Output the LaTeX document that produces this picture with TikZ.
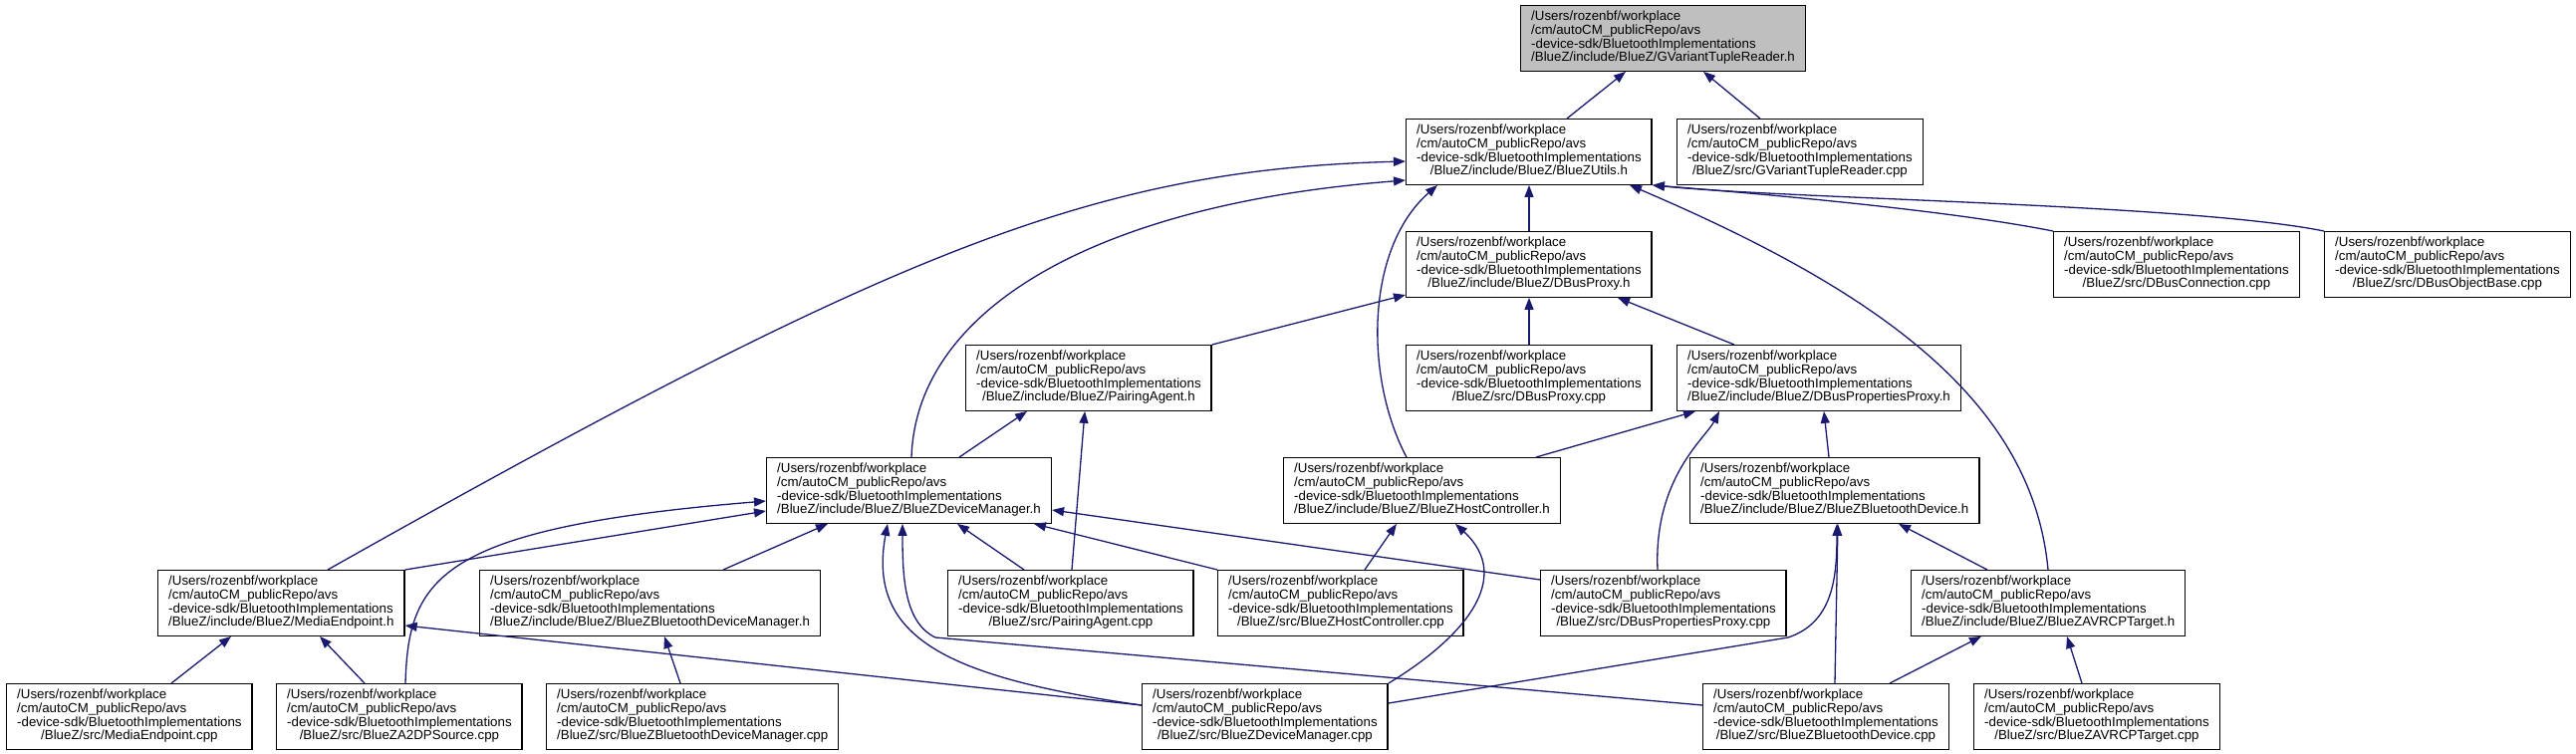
\documentclass[tikz,border=0pt]{standalone}
\usepackage{fontspec}
\setmainfont{Liberation Sans}
\usetikzlibrary{arrows.meta}
\definecolor{edgeblue}{RGB}{25,25,112}
\definecolor{rootgray}{RGB}{191,191,191}
\newcommand{\incpath}[1]{\begin{tabular}{@{}l@{}}/Users/rozenbf/workplace\\/cm/autoCM\_publicRepo/avs\\-device-sdk/BluetoothImplementations\\\multicolumn{1}{@{}c@{}}{#1}\end{tabular}}
\tikzset{
  filebox/.style={draw=black, line width=1.4pt, fill=white, anchor=north west,
    inner xsep=10.5pt, inner ysep=5.5pt, font=\fontsize{13.3}{13.3}\selectfont},
  rootbox/.style={filebox, fill=rootgray},
  dep/.style={draw=edgeblue, line width=1.3pt, -{Triangle[length=12pt,width=9pt]}}
}

\begin{document}
\begin{tikzpicture}[x=1pt, y=-1pt]
\useasboundingbox (0,0) rectangle (2586,756);

\node[rootbox] (gvh) at (1526,5) {\incpath{/BlueZ/include/BlueZ/GVariantTupleReader.h}};
\node[filebox] (utils) at (1411,119) {\incpath{/BlueZ/include/BlueZ/BlueZUtils.h}};
\node[filebox] (gvcpp) at (1683,119) {\incpath{/BlueZ/src/GVariantTupleReader.cpp}};
\node[filebox] (dbusproxyh) at (1411,232) {\incpath{/BlueZ/include/BlueZ/DBusProxy.h}};
\node[filebox] (dbusconn) at (2061,232) {\incpath{/BlueZ/src/DBusConnection.cpp}};
\node[filebox] (dbusobj) at (2333,232) {\incpath{/BlueZ/src/DBusObjectBase.cpp}};
\node[filebox] (pairingh) at (969,346) {\incpath{/BlueZ/include/BlueZ/PairingAgent.h}};
\node[filebox] (dbusproxycpp) at (1411,346) {\incpath{/BlueZ/src/DBusProxy.cpp}};
\node[filebox] (dbuspropsh) at (1683,346) {\incpath{/BlueZ/include/BlueZ/DBusPropertiesProxy.h}};
\node[filebox] (devmgrh) at (769,459) {\incpath{/BlueZ/include/BlueZ/BlueZDeviceManager.h}};
\node[filebox] (hostctrlh) at (1288,459) {\incpath{/BlueZ/include/BlueZ/BlueZHostController.h}};
\node[filebox] (btdevh) at (1696,459) {\incpath{/BlueZ/include/BlueZ/BlueZBluetoothDevice.h}};
\node[filebox] (mediah) at (158,572) {\incpath{/BlueZ/include/BlueZ/MediaEndpoint.h}};
\node[filebox] (btdevmgrh) at (481,572) {\incpath{/BlueZ/include/BlueZ/BlueZBluetoothDeviceManager.h}};
\node[filebox] (pairingcpp) at (951,572) {\incpath{/BlueZ/src/PairingAgent.cpp}};
\node[filebox] (hostctrlcpp) at (1222,572) {\incpath{/BlueZ/src/BlueZHostController.cpp}};
\node[filebox] (dbuspropscpp) at (1546,572) {\incpath{/BlueZ/src/DBusPropertiesProxy.cpp}};
\node[filebox] (avrcph) at (1918,572) {\incpath{/BlueZ/include/BlueZ/BlueZAVRCPTarget.h}};
\node[filebox] (mediacpp) at (6,686) {\incpath{/BlueZ/src/MediaEndpoint.cpp}};
\node[filebox] (a2dpcpp) at (277,686) {\incpath{/BlueZ/src/BlueZA2DPSource.cpp}};
\node[filebox] (btdevmgrcpp) at (548,686) {\incpath{/BlueZ/src/BlueZBluetoothDeviceManager.cpp}};
\node[filebox] (devmgrcpp) at (1146,686) {\incpath{/BlueZ/src/BlueZDeviceManager.cpp}};
\node[filebox] (btdevcpp) at (1709,686) {\incpath{/BlueZ/src/BlueZBluetoothDevice.cpp}};
\node[filebox] (avrcpcpp) at (1981,686) {\incpath{/BlueZ/src/BlueZAVRCPTarget.cpp}};

% GVariantTupleReader.h
\draw[dep] (utils.north -| 1573,0) -- (gvh.south -| 1632,0);
\draw[dep] (gvcpp.north -| 1767,0) -- (gvh.south -| 1710,0);
% BlueZUtils.h
\draw[dep] (dbusproxyh.north -| 1535,0) -- (utils.south -| 1535,0);
\draw[dep] (dbusconn.north west) .. controls (1950,210) and (1760,194) .. (utils.south east);
\draw[dep] (dbusobj.north west) .. controls (2200,205) and (1800,200) .. (utils.south east);
\draw[dep] (mediah.north -| 329,0) .. controls (900,250) and (1100,170) .. (utils.west |- 0,162);
\draw[dep] (devmgrh.north -| 915,0) .. controls (920,310) and (1100,205) .. (utils.west |- 0,181);
\draw[dep] (hostctrlh.north -| 1412,0) .. controls (1370,380) and (1370,250) .. (utils.south -| 1443,0);
\draw[dep] (avrcph.north -| 2056,0) .. controls (2040,400) and (1880,290) .. (utils.south -| 1636,0);
% DBusProxy.h
\draw[dep] (pairingh.north east) -- (dbusproxyh.west |- 0,296);
\draw[dep] (dbusproxycpp.north -| 1535,0) -- (dbusproxyh.south -| 1535,0);
\draw[dep] (dbuspropsh.north -| 1741,0) -- (dbusproxyh.south -| 1624,0);
% PairingAgent.h
\draw[dep] (devmgrh.north -| 963,0) -- (pairingh.south -| 1031,0);
\draw[dep] (pairingcpp.north -| 1076,0) -- (pairingh.south -| 1089,0);
% DBusPropertiesProxy.h
\draw[dep] (hostctrlh.north -| 1542,0) -- (dbuspropsh.south -| 1702,0);
\draw[dep] (dbuspropscpp.north -| 1664,0) .. controls (1660,480) and (1712,440) .. (dbuspropsh.south -| 1726,0);
\draw[dep] (btdevh.north -| 1836,0) -- (dbuspropsh.south -| 1831,0);
% BlueZDeviceManager.h
\draw[dep] (mediah.north east) -- (devmgrh.west |- 0,513);
\draw[dep] (a2dpcpp.north -| 407,0) .. controls (410,580) and (440,530) .. (devmgrh.west |- 0,503);
\draw[dep] (btdevmgrh.north -| 726,0) -- (devmgrh.south -| 831,0);
\draw[dep] (pairingcpp.north -| 1028,0) -- (devmgrh.south -| 961,0);
\draw[dep] (hostctrlcpp.north west) -- (devmgrh.south -| 1038,0);
\draw[dep] (dbuspropscpp.west |- 0,582) -- (devmgrh.east |- 0,512);
\draw[dep] (devmgrcpp.west |- 0,708) .. controls (950,680) and (870,640) .. (devmgrh.south -| 891,0);
\draw[dep] (btdevcpp.west |- 0,708) -- (939,640) .. controls (908,625) and (906,580) .. (devmgrh.south -| 906,0);
% BlueZHostController.h
\draw[dep] (hostctrlcpp.north -| 1370,0) -- (hostctrlh.south -| 1402,0);
\draw[dep] (devmgrcpp.north east) .. controls (1470,640) and (1520,580) .. (hostctrlh.south -| 1461,0);
% BlueZBluetoothDevice.h
\draw[dep] (devmgrcpp.east |- 0,706) -- (1795,640) .. controls (1840,625) and (1844,580) .. (btdevh.south -| 1844,0);
\draw[dep] (btdevcpp.north -| 1842,0) -- (btdevh.south -| 1845,0);
\draw[dep] (avrcph.north -| 1995,0) -- (btdevh.south -| 1906,0);
% MediaEndpoint.h
\draw[dep] (mediacpp.north -| 172,0) -- (mediah.south -| 232,0);
\draw[dep] (a2dpcpp.north -| 366,0) -- (mediah.south -| 321,0);
\draw[dep] (devmgrcpp.west |- 0,708) -- (mediah.east |- 0,628);
% BlueZBluetoothDeviceManager.h
\draw[dep] (btdevmgrcpp.north -| 683,0) -- (btdevmgrh.south -| 667,0);
% BlueZAVRCPTarget.h
\draw[dep] (btdevcpp.north -| 1897,0) -- (avrcph.south -| 1989,0);
\draw[dep] (avrcpcpp.north -| 2090,0) -- (avrcph.south -| 2075,0);
\end{tikzpicture}
\end{document}
